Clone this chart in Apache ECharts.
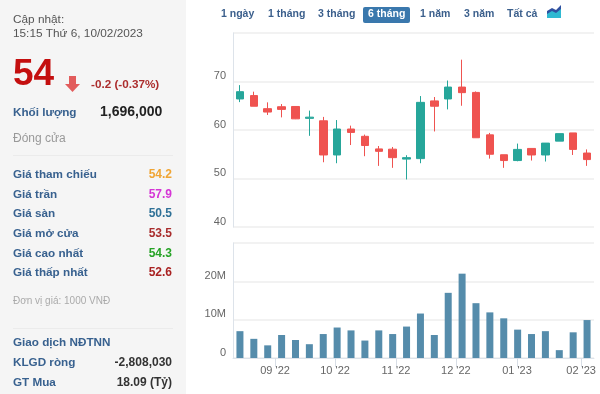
<!DOCTYPE html>
<html><head><meta charset="utf-8">
<style>html,body{margin:0;padding:0;background:#fff}#c{width:600px;height:394px}</style>
<script src="https://cdn.jsdelivr.net/npm/echarts@6/dist/echarts.min.js"></script>
</head><body><div id="c"></div>
<script>
// candle values: [open, close, low, high]
const candles = [
 [66.4,67.9,65.75,69.25],[67.1,64.9,64.9,67.9],[64.4,63.7,63.1,65.7],[64.8,64.25,62.6,65.35],
 [64.85,62.3,62.25,64.85],[62.4,62.65,58.8,64],[61.9,54.85,53.35,62.7],[54.85,60.2,53.15,62.05],
 [60.2,59.5,56.9,60.9],[58.7,56.8,54.6,59.05],[56.1,55.6,52.6,56.7],[56.05,54.3,52.2,56.5],
 [54,54.3,49.8,54.8],[54.1,65.7,53.15,67],[66,64.9,59.7,66.8],[66.4,68.85,64.25,70.2],
 [68.85,67.7,65,74.5],[67.75,58.4,58.4,67.95],[59,55,54.1,59.4],[54.9,53.7,52.2,54.9],
 [53.7,56,53.55,57.2],[56.2,54.85,53.7,56.2],[54.85,57.3,53.5,57.3],[57.7,59.25,57.7,59.25],
 [59.4,56,54.85,59.4],[55.25,53.9,52.6,56]
];
const volumesM = [7,5,3.3,6,4.7,3.6,6.25,7.95,7.2,4.55,7.2,6.25,8.2,11.6,6,17,22,14.3,11.9,10.35,7.4,6.25,7,2.05,6.7,9.9];
const categories = candles.map((_, i) => 'T' + (i + 1));
const tickSlots = [3.03,7.35,11.74,16.05,20.45,25.07];
const tickLabels = ["09 '22","10 '22","11 '22","12 '22","01 '23","02 '23"];
const rangeLabels = ['1 ngày','1 tháng','3 tháng','6 tháng','1 năm','3 năm','Tất cả'];
const priceRows = ['Giá tham chiếu','Giá trần','Giá sàn','Giá mở cửa','Giá cao nhất','Giá thấp nhất'];
const priceValues = ['54.2','57.9','50.5','53.5','54.3','52.6'];
const foreignRows = ['KLGD ròng','GT Mua'];
const foreignValues = ['-2,808,030','18.09 (Tỷ)'];

const F = '"Liberation Sans", Arial, sans-serif';
const NAVY = '#38618f';
function T(x, y, text, size, fill, opt) {
  opt = opt || {};
  return {type:'text', x, y, silent:true, z:10, style:{
    text, fill, align:opt.align||'left', verticalAlign:'middle',
    font:(opt.bold?'bold ':'')+size+'px '+F}};
}
function R(x,y,w,h,fill,r){return {type:'rect',silent:true,z:5,shape:{x,y,width:w,height:h,r:r||0},style:{fill}};}
function P(points,fill){return {type:'polygon',silent:true,z:6,shape:{points},style:{fill}};}

const g = [];
g.push(R(0,0,186,394,'#f5f5f5'));
g.push(T(13,20,'Cập nhật:',11.8,'#555'));
g.push(T(13,34,'15:15 Thứ 6, 10/02/2023',11.8,'#555'));
g.push(T(13,75,'54',37,'#c40f0f',{bold:true}));
g.push(P([[69,76],[76,76],[76,84],[80,84],[72.5,92],[65,84],[69,84]],'#e25c5c'));
g.push(T(91,84.5,'-0.2 (-0.37%)',11.7,'#ac2d2d',{bold:true}));
g.push(T(13,113,'Khối lượng',11.7,NAVY,{bold:true}));
g.push(T(100,112,'1,696,000',14,'#222',{bold:true}));
g.push(T(13,139,'Đóng cửa',12,'#999'));
g.push(R(13,155,160,1,'#ebebeb'));
const rowY = [174.7,194.3,214,233.7,253.3,273];
const rowColors = ['#f0a534','#d535d5','#2f7197','#a92c2c','#26a326','#a92222'];
priceRows.forEach((n,i)=>{
  g.push(T(13,rowY[i],n,11.7,NAVY,{bold:true}));
  g.push(T(172,rowY[i],priceValues[i],12,rowColors[i],{bold:true,align:'right'}));
});
g.push(T(13,301,'Đơn vị giá: 1000 VNĐ',10,'#aaa'));
g.push(R(13,328,160,1,'#ebebeb'));
g.push(T(13,343,'Giao dịch NĐTNN',11.7,NAVY,{bold:true}));
const fY = [363,382.7];
foreignRows.forEach((n,i)=>{
  g.push(T(13,fY[i],n,11.7,NAVY,{bold:true}));
  g.push(T(172,fY[i],foreignValues[i],12,'#333',{bold:true,align:'right'}));
});
// range buttons
const btnX = [221,268,318,368,420,464,507];
g.push(R(363,7,47,16,'#3a78ad',2));
rangeLabels.forEach((n,i)=>{
  g.push(T(btnX[i],14.5,n,10.5,i===3?'#fff':'#3b5f8c',{bold:true}));
});
g.push(P([[547,18],[547,11],[552,8],[556,10],[561,5],[561,18]],'#2f50a0'));
g.push(P([[547,18],[547,14],[552,11],[556,13],[561,9],[561,18]],'#2fb9d2'));

const yLabel = {color:'#666',fontSize:11,fontFamily:F,margin:7,verticalAlign:'bottom'};
const grid = {left:233,width:361,show:false};
const option = {
  animation:false,
  backgroundColor:'#fff',
  graphic:{elements:g},
  grid:[Object.assign({top:33,height:194},grid),Object.assign({top:243,height:115},grid)],
  xAxis:[
    {type:'category',gridIndex:0,data:categories,axisLabel:{show:false},axisTick:{show:false},
     axisLine:{show:false},splitLine:{show:false}},
    {type:'category',gridIndex:1,data:categories,show:false},
    {type:'value',gridIndex:1,min:0,max:26,position:'bottom',
     axisLine:{show:true,onZero:false,lineStyle:{color:'#dde3ea'}},
     axisTick:{show:true,length:9,lineStyle:{color:'#d8dee6'},customValues:tickSlots},
     axisLabel:{color:'#666',fontSize:11,fontFamily:F,margin:7,
       customValues:tickSlots,hideOverlap:false,
       formatter:v=>tickLabels[tickSlots.indexOf(v)]},
     splitLine:{show:false}}
  ],
  yAxis:[
    {type:'value',gridIndex:0,min:40,max:80,interval:10,
     axisLine:{show:true,lineStyle:{color:'#dde3ea'}},axisTick:{show:false},
     axisLabel:Object.assign({formatter:v=>v===80?'':String(v)},yLabel),
     splitLine:{lineStyle:{color:'#eeeeee',width:1.5}}},
    {type:'value',gridIndex:1,min:0,max:30,interval:10,
     axisLine:{show:true,lineStyle:{color:'#dde3ea'}},axisTick:{show:false},
     axisLabel:Object.assign({formatter:v=>v===30?'':(v===0?'0':v+'M')},yLabel),
     splitLine:{lineStyle:{color:'#eeeeee',width:1.5}}}
  ],
  series:[
    {type:'candlestick',xAxisIndex:0,yAxisIndex:0,data:candles,barWidth:8,
     itemStyle:{color:'#26a69a',color0:'#ef5350',borderColor:'#26a69a',borderColor0:'#ef5350',borderWidth:1}},
    {type:'bar',xAxisIndex:1,yAxisIndex:1,data:volumesM,barWidth:7,
     itemStyle:{color:'#558cab'}}
  ]
};
echarts.init(document.getElementById('c')).setOption(option);
</script></body></html>
